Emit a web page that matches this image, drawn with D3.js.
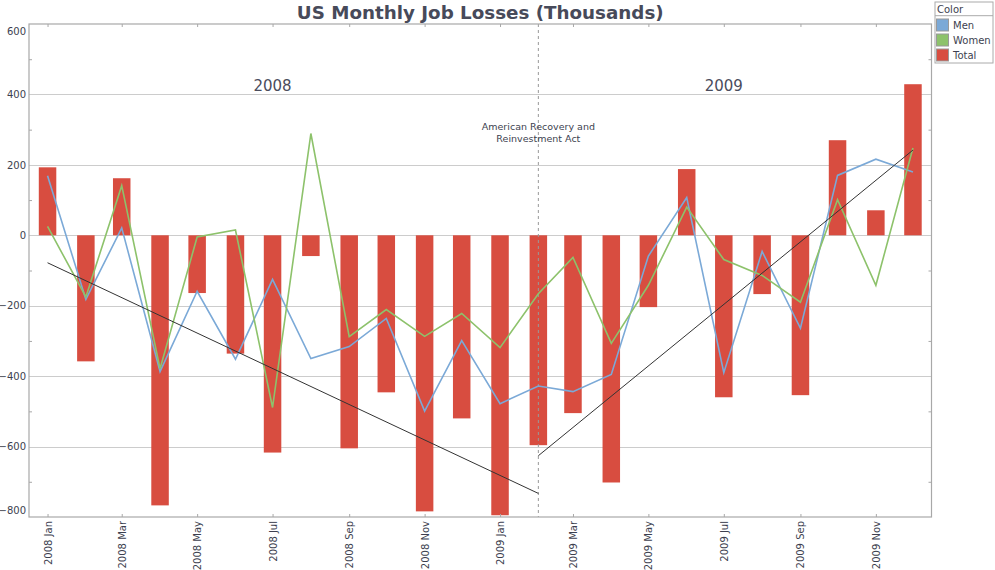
<!DOCTYPE html>
<html>
<head>
<meta charset="utf-8">
<script src="https://cdn.jsdelivr.net/npm/d3@7"></script>
<style>
  html, body { margin: 0; padding: 0; background: #fff; }
  svg { display: block; font-family: "DejaVu Sans", sans-serif; }
</style>
</head>
<body>
<svg id="chart" width="995" height="570"></svg>
<script>
// ---- data ----
const months = ["2008-01","2008-02","2008-03","2008-04","2008-05","2008-06","2008-07","2008-08","2008-09","2008-10","2008-11","2008-12",
                "2009-01","2009-02","2009-03","2009-04","2009-05","2009-06","2009-07","2009-08","2009-09","2009-10","2009-11","2009-12"];
const totalValues = [193,-358,162,-767,-164,-336,-617,-59,-605,-446,-784,-520,-795,-596,-505,-702,-204,188,-460,-167,-454,270,71,429];
const menValues   = [169,-182,21,-387,-159,-352,-125,-350,-316,-236,-499,-299,-478,-428,-444,-395,-59,107,-390,-46,-264,170,216,180];
const womenValues = [25,-175,141,-379,-5,15,-489,289,-288,-211,-287,-222,-319,-166,-63,-307,-142,80,-69,-114,-190,101,-142,248];
const trend2008 = [["2008-01",-78],["2009-02",-733]];
const trend2009 = [["2009-02",-626],["2009-12",242]];
const yTickLabels = [600,400,200,0,-200,-400,-600,-800];
const yGridValues = [400,200,0,-200,-400,-600];
const yMinorTicks = [500,300,100,-100,-300,-500,-700];
const xTickLabels = ["2008-01","2008-03","2008-05","2008-07","2008-09","2008-11","2009-01","2009-03","2009-05","2009-07","2009-09","2009-11"];
const yearLabels = [["2008-07","2008"],["2009-07","2009"]];
const eventMonth = "2009-02";
const eventLabel = ["American Recovery and","Reinvestment Act"];
const legendItems = ["Men","Women","Total"];
const titleText = "US Monthly Job Losses (Thousands)";

// ---- setup ----
const parse = d3.utcParse("%Y-%m");
const fmtMonth = d3.utcFormat("%Y %b");
const colors = {Men:"#7ba9d7", Women:"#8dc26b", Total:"#d84d40"};
const svg = d3.select("#chart");
const pLeft = 29, pRight = 931.5, pTop = 24, pBottom = 517;

const x = d3.scaleUtc()
  .domain([Date.UTC(2007,11,17), Date.UTC(2009,11,16)])
  .range([pLeft, pRight]);
const y = d3.scaleLinear().domain([-800, 600]).range([pBottom, pTop]);

const textColor = "#3d3f4f";

// gridlines
svg.append("g").selectAll("line").data(yGridValues).join("line")
  .attr("x1", pLeft).attr("x2", pRight)
  .attr("y1", d => Math.round(y(d)) + 0.5).attr("y2", d => Math.round(y(d)) + 0.5)
  .attr("stroke", "#cccccc").attr("stroke-width", 1);

// bars
const barW = 17.5;
svg.append("g").selectAll("rect").data(months.map((m,i)=>({date:parse(m), v:totalValues[i]}))).join("rect")
  .attr("x", d => x(d.date) - barW/2)
  .attr("width", barW)
  .attr("y", d => y(Math.max(0, d.v)))
  .attr("height", d => Math.abs(y(d.v) - y(0)))
  .attr("fill", colors.Total);

// event dashed line
svg.append("line")
  .attr("x1", x(parse(eventMonth))).attr("x2", x(parse(eventMonth)))
  .attr("y1", pTop).attr("y2", pBottom)
  .attr("stroke", "#999").attr("stroke-dasharray", "3,3").attr("stroke-width", 1);

// lines
const line = d3.line().x(d => x(d[0])).y(d => y(d[1]));
[["Men", menValues], ["Women", womenValues]].forEach(([name, vals]) => {
  svg.append("path")
    .datum(months.map((m,i)=>[parse(m), vals[i]]))
    .attr("d", line)
    .attr("fill", "none")
    .attr("stroke", colors[name])
    .attr("stroke-width", 1.6)
    .attr("stroke-linejoin", "miter");
});

// trend lines
[trend2008, trend2009].forEach(t => {
  svg.append("path")
    .datum(t.map(d => [parse(d[0]), d[1]]))
    .attr("d", line)
    .attr("fill", "none")
    .attr("stroke", "#333")
    .attr("stroke-width", 1);
});

// frame
svg.append("rect")
  .attr("x", pLeft).attr("y", pTop)
  .attr("width", pRight - pLeft).attr("height", pBottom - pTop)
  .attr("fill", "none").attr("stroke", "#a8a8a8").attr("stroke-width", 1.2);

// minor ticks left & right
const tickColor = "#a8a8a8";
svg.append("g").attr("transform", `translate(${pLeft},0)`)
  .call(d3.axisRight(y).tickValues(yMinorTicks).tickSize(3).tickFormat(""))
  .call(g => { g.select(".domain").remove(); g.selectAll("line").attr("stroke", tickColor); });
svg.append("g").attr("transform", `translate(${pRight},0)`)
  .call(d3.axisLeft(y).tickValues(yMinorTicks).tickSize(3).tickFormat(""))
  .call(g => { g.select(".domain").remove(); g.selectAll("line").attr("stroke", tickColor); });

// y labels
svg.append("g").attr("transform", `translate(${pLeft},0)`)
  .call(d3.axisLeft(y).tickValues(yTickLabels).tickSize(0).tickPadding(3).tickFormat(d3.format("d")))
  .call(g => {
    g.select(".domain").remove();
    g.selectAll("text").attr("fill", textColor).attr("font-size", 10)
      .attr("font-family", "DejaVu Sans");
    g.selectAll(".tick").filter(d => d === 600).select("text").attr("dy", "1.05em");
    g.selectAll(".tick").filter(d => d === -800).select("text").attr("dy", "-0.35em");
  });

// x top & bottom ticks
const xTickDates = xTickLabels.map(parse);
svg.append("g").attr("transform", `translate(0,${pTop})`)
  .call(d3.axisBottom(x).tickValues(xTickDates).tickSize(3).tickFormat(""))
  .call(g => { g.select(".domain").remove(); g.selectAll("line").attr("stroke", tickColor); });
svg.append("g").attr("transform", `translate(0,${pBottom})`)
  .call(d3.axisTop(x).tickValues(xTickDates).tickSize(3).tickFormat(""))
  .call(g => { g.select(".domain").remove(); g.selectAll("line").attr("stroke", tickColor); });

// x labels (rotated)
svg.append("g").attr("transform", `translate(0,${pBottom})`)
  .call(d3.axisBottom(x).tickValues(xTickDates).tickSize(0).tickFormat(fmtMonth))
  .call(g => {
    g.select(".domain").remove();
    g.selectAll("text")
      .attr("fill", textColor).attr("font-size", 10).attr("font-family", "DejaVu Sans")
      .attr("transform", "rotate(-90)")
      .attr("text-anchor", "end")
      .attr("x", -4).attr("y", 0).attr("dy", "0.35em");
  });

// title
svg.append("text")
  .attr("x", (pLeft + pRight) / 2).attr("y", 18.5)
  .attr("text-anchor", "middle")
  .attr("font-size", 18.3).attr("font-weight", "bold")
  .attr("fill", "#474a5a")
  .text(titleText);

// year labels
svg.append("g").selectAll("text").data(yearLabels).join("text")
  .attr("x", d => x(parse(d[0]))).attr("y", y(410))
  .attr("text-anchor", "middle")
  .attr("font-size", 15)
  .attr("fill", "#4a4c5c")
  .text(d => d[1]);

// event annotation
const ev = svg.append("text")
  .attr("x", x(parse(eventMonth))).attr("y", y(300))
  .attr("text-anchor", "middle")
  .attr("font-size", 9.5).attr("fill", textColor);
eventLabel.forEach((t, i) => {
  ev.append("tspan").attr("x", x(parse(eventMonth))).attr("dy", i === 0 ? 0 : 12.7).text(t);
});

// legend
const lg = svg.append("g").attr("transform", "translate(935,2)");
lg.append("rect").attr("x", 0).attr("y", 0).attr("width", 58).attr("height", 61)
  .attr("fill", "#fff").attr("stroke", "#aaa");
lg.append("line").attr("x1", 0).attr("x2", 58).attr("y1", 13.7).attr("y2", 13.7).attr("stroke", "#aaa");
lg.append("text").attr("x", 2).attr("y", 10.5).attr("font-size", 10).attr("fill", textColor).text("Color");
legendItems.forEach((name, i) => {
  const yy = 17 + i * 15;
  lg.append("rect").attr("x", 1.5).attr("y", yy).attr("width", 12).attr("height", 12)
    .attr("fill", colors[name]).attr("stroke", "#999").attr("stroke-width", 1);
  lg.append("text").attr("x", 18).attr("y", yy + 9.5).attr("font-size", 10).attr("fill", textColor).text(name);
});
</script>
</body>
</html>
